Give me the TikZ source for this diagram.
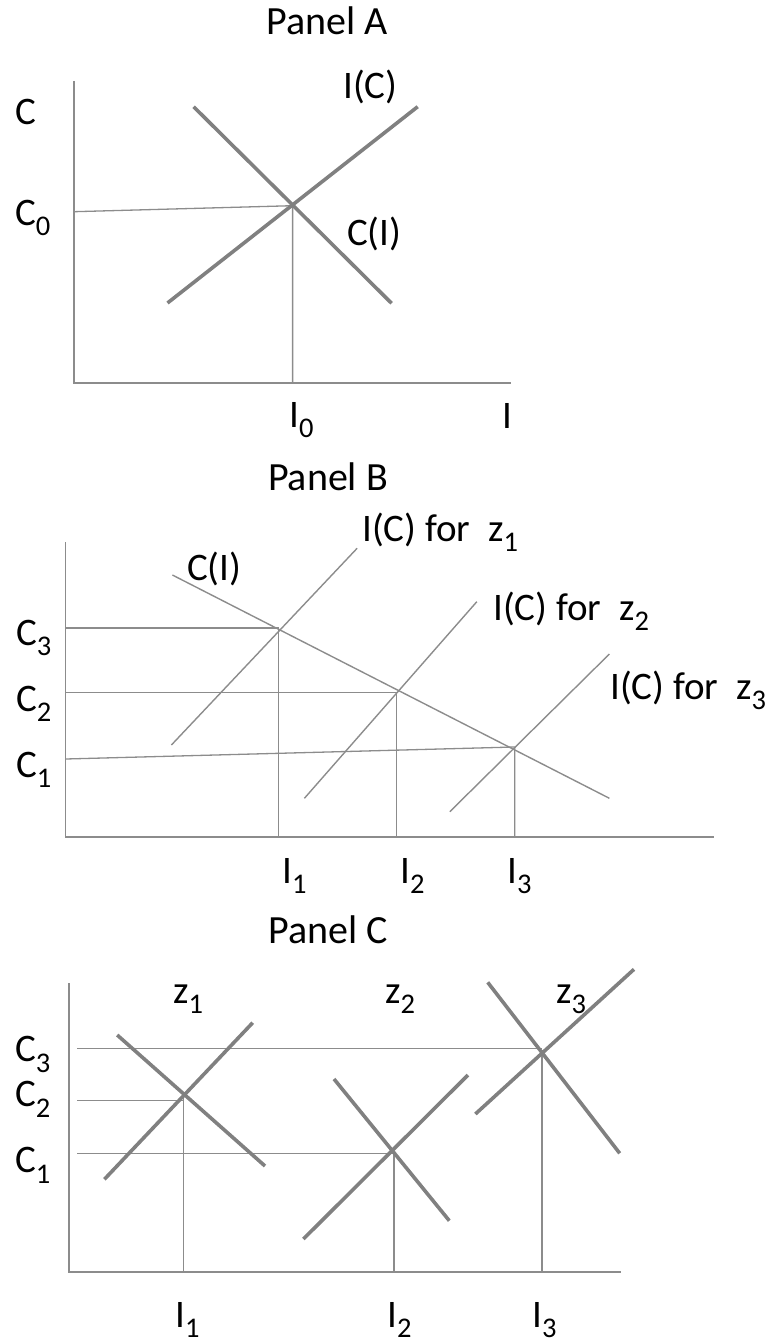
\documentclass[tikz,border=0pt]{standalone}
\usepackage{fontspec}
\setmainfont{Carlito}
\newcommand\lsub[1]{\raisebox{-0.27em}{\fontsize{28.5}{31}\selectfont #1}}
\definecolor{thickgray}{RGB}{128,128,128}
\definecolor{thingray}{RGB}{140,140,140}
\begin{document}
\begin{tikzpicture}[x=1pt,y=-1pt,
  axis/.style={draw=thingray,line width=1.4pt},
  guide/.style={draw=thingray,line width=1.3pt},
  curve/.style={draw=thickgray,line width=3.6pt},
  thincurve/.style={draw=thingray,line width=1.4pt},
  lab/.style={anchor=base west,inner sep=0pt,text=black,font=\fontsize{39}{45}\selectfont},
  title/.style={anchor=base,inner sep=0pt,text=black,font=\fontsize{40}{46}\selectfont}]
\useasboundingbox (0,0) rectangle (769,1343);

% ---------------- Panel A ----------------
\node[title] (tA) at (327,35) {Panel A};
\coordinate (aO) at (74,383);
\coordinate (aY) at (74,81);
\coordinate (aX) at (511,383);
\coordinate (aE) at (292.6,205.7);
\coordinate (aC0) at (74,211.7);
\coordinate (aIC1) at (167.5,303);
\coordinate (aIC2) at (417.7,106.7);
\coordinate (aCI1) at (193.6,106.7);
\coordinate (aCI2) at (391.6,303.3);
\draw[axis] (aY) -- (aO) -- (aX);
\draw[guide] (aC0) -- (aE) -- (aE |- aO);
\draw[curve] (aIC1) -- (aIC2);
\draw[curve] (aCI1) -- (aCI2);
\node[lab] (aLC) at (15,125) {C};
\node[lab] (aLC0) at (15,225) {C\lsub{0}};
\node[lab] (aLIC) at (343,99) {I(C)};
\node[lab] (aLCI) at (347,245) {C(I)};
\node[lab] (aLI0) at (289,427) {I\lsub{0}};
\node[lab] (aLI) at (502,428) {I};

% ---------------- Panel B ----------------
\node[title] (tB) at (328,490) {Panel B};
\coordinate (bO) at (65.5,837);
\coordinate (bY) at (65.5,542);
\coordinate (bX) at (714,837);
\coordinate (bCI1) at (172.4,575);
\coordinate (bCI2) at (609.4,798.3);
\coordinate (bP1) at (278.3,628);
\coordinate (bP2) at (396.6,692.5);
\coordinate (bP3) at (514.8,747);
\coordinate (bC3) at (65.5,628);
\coordinate (bC2) at (65.5,692.5);
\coordinate (bC1) at (65.5,759);
\coordinate (bZa1) at (171.4,745);
\coordinate (bZa2) at (357.1,548.3);
\coordinate (bZb1) at (304.4,798.3);
\coordinate (bZb2) at (476.8,601.7);
\coordinate (bZc1) at (449.8,811.7);
\coordinate (bZc2) at (609.4,654);
\draw[axis] (bY) -- (bO) -- (bX);
\draw[guide] (bC3) -- (bP1) -- (bP1 |- bO);
\draw[guide] (bC2) -- (bP2) -- (bP2 |- bO);
\draw[guide] (bC1) -- (bP3) -- (bP3 |- bO);
\draw[thincurve] (bCI1) -- (bCI2);
\draw[thincurve] (bZa1) -- (bZa2);
\draw[thincurve] (bZb1) -- (bZb2);
\draw[thincurve] (bZc1) -- (bZc2);
\node[lab] (bLCI) at (187,580.5) {C(I)};
\node[lab] (bLz1) at (362,541) {I(C) for\ \ z\lsub{1}};
\node[lab] (bLz2) at (493,620) {I(C) for\ \ z\lsub{2}};
\node[lab] (bLz3) at (610,699) {I(C) for\ \ z\lsub{3}};
\node[lab] (bLC3) at (16,645) {C\lsub{3}};
\node[lab] (bLC2) at (16,711) {C\lsub{2}};
\node[lab] (bLC1) at (16,777) {C\lsub{1}};
\node[lab] (bLI1) at (282,883) {I\lsub{1}};
\node[lab] (bLI2) at (400,883) {I\lsub{2}};
\node[lab] (bLI3) at (507,883) {I\lsub{3}};

% ---------------- Panel C ----------------
\node[title] (tC) at (328,943) {Panel C};
\coordinate (cO) at (69,1272);
\coordinate (cY) at (69,983);
\coordinate (cX) at (620.7,1272);
\coordinate (cE1) at (183.3,1095);
\coordinate (cE2) at (394,1151.7);
\coordinate (cE3) at (541.9,1050);
\coordinate (cC3) at (77,1048.3);
\coordinate (cC2) at (77,1100.7);
\coordinate (cC1) at (77,1153.3);
\draw[axis] (cY) -- (cO) -- (cX);
\draw[guide] (cC3) -- (cC3 -| cE3);
\draw[guide] (cC2) -- (cC2 -| cE1);
\draw[guide] (cC1) -- (cC1 -| cE2);
\draw[guide] (cE1) -- (cE1 |- cO);
\draw[guide] (cE2) -- (cE2 |- cO);
\draw[guide] (cE3) -- (cE3 |- cO);
% z1 cross
\coordinate (cA1) at (104.4,1179.3);
\coordinate (cA2) at (252.7,1022.7);
\coordinate (cA3) at (117.2,1035);
\coordinate (cA4) at (265,1166);
\draw[curve] (cA1) -- (cA2);
\draw[curve] (cA3) -- (cA4);
% z2 cross
\coordinate (cB1) at (303.4,1239);
\coordinate (cB2) at (468,1075);
\coordinate (cB3) at (334,1079);
\coordinate (cB4) at (449.3,1220.7);
\draw[curve] (cB1) -- (cB2);
\draw[curve] (cB3) -- (cB4);
% z3 cross
\coordinate (cD1) at (475.4,1114);
\coordinate (cD2) at (634,969.3);
\coordinate (cD3) at (487.7,982.3);
\coordinate (cD4) at (619.7,1153.3);
\draw[curve] (cD1) -- (cD2);
\draw[curve] (cD3) -- (cD4);
\node[lab] (cLz1) at (173,1003) {z\lsub{1}};
\node[lab] (cLz2) at (385,1003) {z\lsub{2}};
\node[lab] (cLz3) at (556,1003) {z\lsub{3}};
\node[lab] (cLC3) at (15,1061.7) {C\lsub{3}};
\node[lab] (cLC2) at (15,1106.7) {C\lsub{2}};
\node[lab] (cLC1) at (15,1172.7) {C\lsub{1}};
\node[lab] (cLI1) at (175,1327) {I\lsub{1}};
\node[lab] (cLI2) at (387,1327) {I\lsub{2}};
\node[lab] (cLI3) at (532,1327) {I\lsub{3}};
\end{tikzpicture}
\end{document}
